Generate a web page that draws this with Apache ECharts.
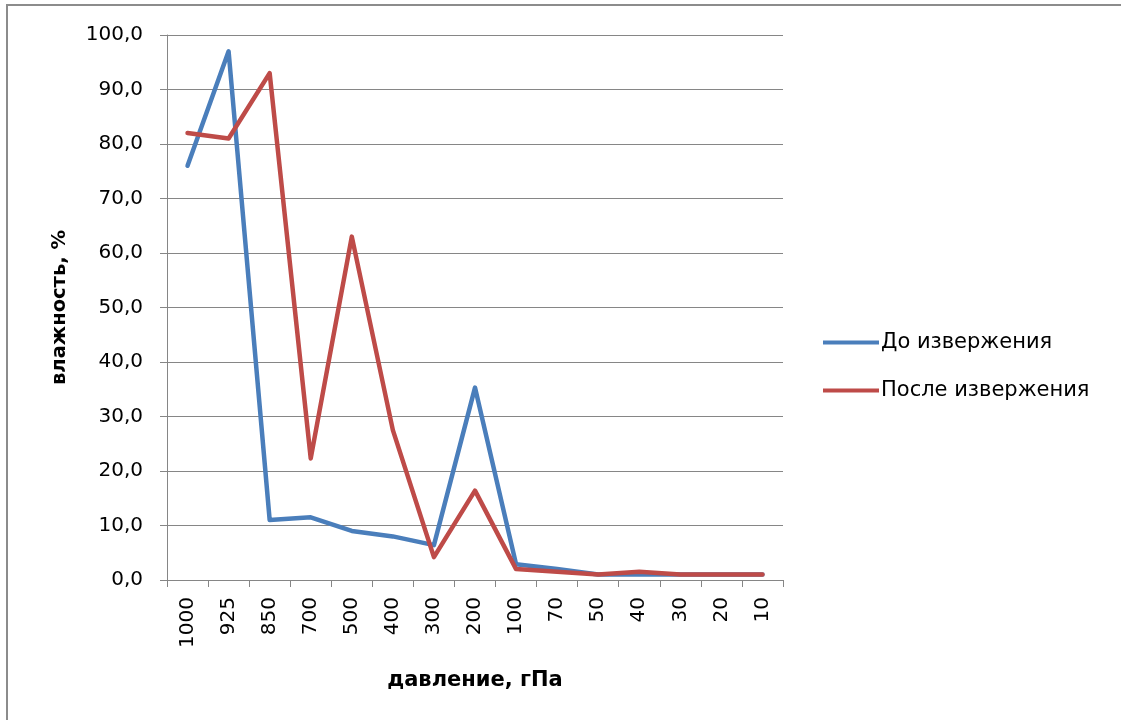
<!DOCTYPE html>
<html>
<head>
<meta charset="utf-8">
<script src="https://cdn.jsdelivr.net/npm/echarts@6/dist/echarts.min.js"></script>
<style>
  html, body { margin: 0; padding: 0; background: #fff; }
  #chart { width: 1121px; height: 720px; }
</style>
</head>
<body>
<div id="chart"></div>
<script>
// Pressure levels (hPa) along the x axis
const pressureLevels = ['1000', '925', '850', '700', '500', '400', '300', '200', '100', '70', '50', '40', '30', '20', '10'];
// Relative humidity, %, before the eruption
const humidityBefore = [76.0, 97.0, 11.0, 11.5, 9.0, 8.0, 6.4, 35.3, 2.9, 2.0, 1.0, 1.0, 1.0, 1.0, 1.0];
// Relative humidity, %, after the eruption
const humidityAfter = [82.0, 81.0, 93.0, 22.3, 63.0, 27.5, 4.2, 16.4, 2.0, 1.5, 1.0, 1.5, 1.0, 1.0, 1.0];
const seriesNames = ['До извержения', 'После извержения'];

const FONT = '"DejaVu Sans", "Liberation Sans", sans-serif';
const GRID_GRAY = '#868686';
const LEGEND_LINE = 'path://M0,0 L56,0 L56,4 L0,4 Z';

const chart = echarts.init(document.getElementById('chart'), null, { renderer: 'canvas' });

chart.setOption({
  animation: false,
  backgroundColor: '#ffffff',
  graphic: [{
    // chart frame: left and top edges only are inside the page
    type: 'polyline',
    shape: { points: [[7, 760], [7, 5], [1160, 5]] },
    style: { fill: null, stroke: '#8c8c8c', lineWidth: 2 },
    silent: true
  }],
  grid: { left: 167, right: 338, top: 35, bottom: 140, containLabel: false },
  legend: {
    orient: 'vertical',
    left: 823,
    top: 332,
    padding: 0,
    itemGap: 27,
    itemWidth: 56,
    itemHeight: 4,
    textStyle: { fontFamily: FONT, fontSize: 21, color: '#000', padding: [0, 0, 0, -3] },
    data: [
      { name: seriesNames[0], icon: LEGEND_LINE },
      { name: seriesNames[1], icon: LEGEND_LINE }
    ]
  },
  xAxis: {
    type: 'category',
    data: pressureLevels,
    boundaryGap: true,
    name: 'давление, гПа',
    nameLocation: 'middle',
    nameGap: 90,
    nameTextStyle: { fontFamily: FONT, fontSize: 21, fontWeight: 'bold', color: '#000' },
    axisLine: { lineStyle: { color: GRID_GRAY, width: 1 } },
    axisTick: { show: true, alignWithLabel: false, length: 7, lineStyle: { color: GRID_GRAY } },
    axisLabel: { rotate: 90, fontFamily: FONT, fontSize: 20, color: '#000', margin: 17, interval: 0 },
    splitLine: { show: false }
  },
  yAxis: {
    type: 'value',
    min: 0, max: 100, interval: 10,
    name: 'влажность, %',
    nameLocation: 'middle',
    nameGap: 97,
    nameRotate: 90,
    nameTextStyle: { fontFamily: FONT, fontSize: 19.5, fontWeight: 'bold', color: '#000' },
    axisLine: { show: true, lineStyle: { color: GRID_GRAY, width: 1 } },
    axisTick: { show: true, length: 7, lineStyle: { color: GRID_GRAY } },
    axisLabel: {
      fontFamily: FONT, fontSize: 20, color: '#000', margin: 24,
      formatter: v => v.toFixed(1).replace('.', ',')
    },
    splitLine: { show: true, lineStyle: { color: GRID_GRAY, width: 1 } }
  },
  series: [
    {
      name: seriesNames[0],
      type: 'line',
      data: humidityBefore,
      symbol: 'none',
      lineStyle: { color: '#4a7ebb', width: 4.5, cap: 'round', join: 'round' },
      itemStyle: { color: '#4a7ebb' }
    },
    {
      name: seriesNames[1],
      type: 'line',
      data: humidityAfter,
      symbol: 'none',
      lineStyle: { color: '#be4b48', width: 4.5, cap: 'round', join: 'round' },
      itemStyle: { color: '#be4b48' }
    }
  ]
});
</script>
</body>
</html>
